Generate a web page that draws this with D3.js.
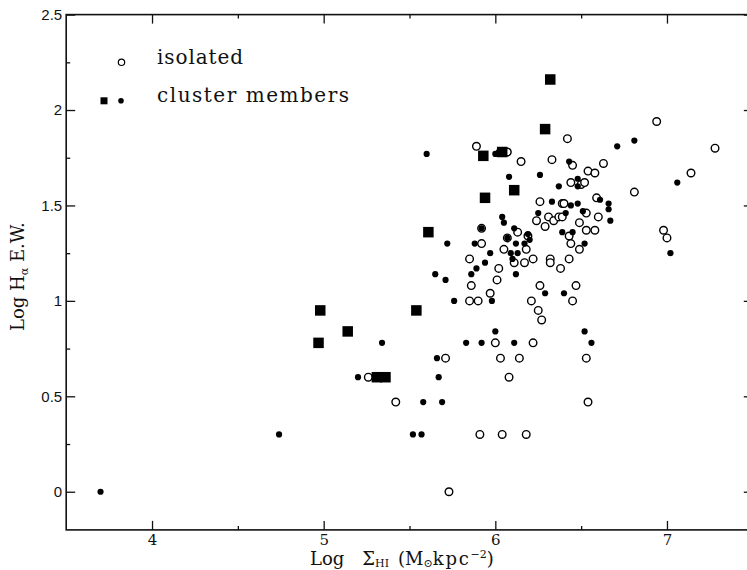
<!DOCTYPE html>
<html>
<head>
<meta charset="utf-8">
<script src="https://cdn.jsdelivr.net/npm/d3@7"></script>
<style>
  body { margin: 0; background: #fff; }
  svg { display: block; }
  .tick line { stroke: #111; stroke-width: 1.3; }
</style>
</head>
<body>
<svg id="chart" width="747" height="570"></svg>
<script>
// [log Sigma_HI, log H-alpha EW]
const isolated = [
  [5.73,0.00],[5.91,0.30],[6.04,0.30],[6.18,0.30],[5.26,0.60],[5.42,0.47],[5.71,0.70],
  [5.85,1.00],[5.90,1.00],[5.86,1.08],[5.85,1.22],[5.97,1.04],[6.00,0.78],[6.22,0.78],
  [6.03,0.70],[6.14,0.70],[6.53,0.70],[6.08,0.60],[6.54,0.47],[6.27,0.90],[6.25,0.95],
  [6.21,1.00],[6.26,1.08],[6.47,1.08],[6.45,1.00],[6.02,1.17],[6.01,1.11],[6.05,1.27],
  [6.18,1.27],[6.11,1.20],[6.17,1.20],[6.22,1.22],[6.32,1.22],[6.32,1.20],[6.43,1.22],
  [6.38,1.17],[5.92,1.38],[5.92,1.30],[6.07,1.33],[6.13,1.36],[6.19,1.34],[6.43,1.34],
  [6.44,1.30],[6.49,1.27],[6.98,1.37],[7.00,1.33],[6.24,1.42],[6.29,1.39],[6.49,1.41],
  [6.53,1.37],[6.58,1.37],[6.31,1.44],[6.34,1.42],[6.37,1.44],[6.39,1.44],[6.53,1.46],
  [6.60,1.44],[6.26,1.52],[6.39,1.51],[6.40,1.51],[6.59,1.54],[6.81,1.57],[6.44,1.62],
  [6.50,1.61],[6.52,1.62],[6.45,1.71],[6.54,1.68],[6.58,1.67],[6.63,1.72],[6.33,1.74],
  [6.15,1.73],[6.42,1.85],[6.94,1.94],[7.28,1.80],[7.14,1.67],[5.89,1.81],[6.07,1.78]
];

const clusterDots = [
  [3.70,0.00],[4.74,0.30],[5.52,0.30],[5.57,0.30],[5.20,0.60],[5.58,0.47],[5.69,0.47],
  [5.34,0.78],[5.83,0.78],[5.66,0.70],[5.67,0.60],[5.76,1.00],[5.65,1.14],[5.71,1.11],
  [5.86,1.14],[5.89,1.17],[6.00,0.84],[6.52,0.84],[5.92,0.78],[6.11,0.78],[6.56,0.78],
  [5.98,1.00],[6.29,1.04],[6.40,1.04],[6.12,1.14],[5.72,1.30],[5.88,1.30],[5.97,1.25],
  [5.94,1.20],[5.92,1.38],[6.11,1.38],[6.19,1.35],[6.20,1.32],[6.07,1.33],[6.12,1.30],
  [6.17,1.30],[6.09,1.25],[6.13,1.25],[6.10,1.22],[6.39,1.36],[6.45,1.36],[6.52,1.30],
  [6.04,1.44],[6.05,1.41],[6.25,1.46],[6.41,1.46],[6.51,1.47],[6.67,1.42],[6.33,1.52],
  [6.44,1.50],[6.48,1.51],[6.61,1.53],[6.66,1.51],[6.66,1.48],[6.37,1.60],[6.48,1.64],
  [6.48,1.60],[6.08,1.65],[6.26,1.66],[6.43,1.73],[6.71,1.81],[6.81,1.84],[7.06,1.62],
  [7.02,1.25],[6.00,1.77],[6.02,1.78],[5.60,1.77]
];

const clusterSquares = [
  [6.32,2.16],[6.29,1.90],[5.93,1.76],[6.04,1.78],[6.11,1.58],[5.94,1.54],[5.61,1.36],
  [4.98,0.95],[5.14,0.84],[4.97,0.78],[5.54,0.95],[5.31,0.60],[5.36,0.60]
];

const xMajor = [4, 5, 6, 7];
const xMinor = [4.5, 5.5, 6.5];
const yMajor = [0, 0.5, 1, 1.5, 2, 2.5];
const yMinor = [0.25, 0.75, 1.25, 1.75, 2.25];

const svg = d3.select("#chart");

const x = d3.scaleLinear().domain([3.5, 7.5]).range([66.2, 752.8]);
const y = d3.scaleLinear().domain([-0.2, 2.5]).range([529.9, 14.6]);

const serif = "'DejaVu Serif', 'Liberation Serif', serif";
const sans = "'Liberation Sans', Arial, sans-serif";

// frame
svg.append("rect")
  .attr("x", x(3.5)).attr("y", y(2.5))
  .attr("width", x(7.5) - x(3.5)).attr("height", y(-0.2) - y(2.5))
  .attr("fill", "none").attr("stroke", "#111").attr("stroke-width", 1.6);

function axis(gen, tx, ty) {
  const g = svg.append("g").attr("transform", `translate(${tx},${ty})`).call(gen);
  g.select(".domain").remove();
  return g;
}

// ticks point inward on all four sides
axis(d3.axisBottom(x).tickValues(xMajor).tickSize(-9).tickPadding(4).tickFormat(d => d), 0, y(-0.2))
  .selectAll("text").attr("font-family", serif).attr("font-size", 15).attr("fill", "#111");
axis(d3.axisBottom(x).tickValues(xMinor).tickSize(-4).tickFormat(""), 0, y(-0.2));
axis(d3.axisTop(x).tickValues(xMajor).tickSize(-9).tickFormat(""), 0, y(2.5));
axis(d3.axisTop(x).tickValues(xMinor).tickSize(-4).tickFormat(""), 0, y(2.5));

axis(d3.axisLeft(y).tickValues(yMajor).tickSize(-9).tickPadding(4).tickFormat(d => String(d)), x(3.5), 0)
  .selectAll("text").attr("font-family", sans).attr("font-size", 15).attr("fill", "#111");
axis(d3.axisLeft(y).tickValues(yMinor).tickSize(-4).tickFormat(""), x(3.5), 0);
axis(d3.axisRight(y).tickValues(yMajor).tickSize(-9).tickFormat(""), x(7.5), 0);
axis(d3.axisRight(y).tickValues(yMinor).tickSize(-4).tickFormat(""), x(7.5), 0);

// points
svg.append("g").selectAll("circle")
  .data(isolated).join("circle")
  .attr("cx", d => x(d[0])).attr("cy", d => y(d[1]))
  .attr("r", 3.8).attr("fill", "#fff").attr("stroke", "#000").attr("stroke-width", 1.4);

svg.append("g").selectAll("circle")
  .data(clusterDots).join("circle")
  .attr("cx", d => x(d[0])).attr("cy", d => y(d[1]))
  .attr("r", 3.1).attr("fill", "#000");

const sq = 10.5;
svg.append("g").selectAll("rect")
  .data(clusterSquares).join("rect")
  .attr("x", d => x(d[0]) - sq / 2).attr("y", d => y(d[1]) - sq / 2)
  .attr("width", sq).attr("height", sq).attr("fill", "#000");

// legend
const legend = svg.append("g");
legend.append("circle").attr("cx", 121.5).attr("cy", 62.3).attr("r", 3.2)
  .attr("fill", "#fff").attr("stroke", "#000").attr("stroke-width", 1.2);
legend.append("rect").attr("x", 100.5).attr("y", 97.3).attr("width", 7).attr("height", 7).attr("fill", "#000");
legend.append("circle").attr("cx", 121).attr("cy", 100.8).attr("r", 2.8).attr("fill", "#000");
legend.append("text").attr("x", 157).attr("y", 63.5)
  .attr("font-family", serif).attr("font-size", 20).attr("fill", "#111")
  .attr("textLength", 86).attr("lengthAdjust", "spacing").text("isolated");
legend.append("text").attr("x", 157).attr("y", 102)
  .attr("font-family", serif).attr("font-size", 20).attr("fill", "#111")
  .attr("textLength", 192).attr("lengthAdjust", "spacing").text("cluster members");

// axis titles
const xt = svg.append("text").attr("x", 310).attr("y", 565)
  .attr("font-family", serif).attr("font-size", 18).attr("fill", "#111");
xt.append("tspan").text("Log\u2003\u03A3");
xt.append("tspan").attr("font-size", 11).attr("dy", 2).text("HI");
xt.append("tspan").attr("dy", -2).text("\u2002(M");
xt.append("tspan").attr("font-size", 11).attr("dy", 2).text("\u2299");
xt.append("tspan").attr("dy", -2).attr("letter-spacing", 1.8).text("kpc");
xt.append("tspan").attr("font-size", 11).attr("dy", -7).text("\u22122");
xt.append("tspan").attr("dy", 7).text(")");

const yt = svg.append("text")
  .attr("transform", "translate(24,331) rotate(-90)")
  .attr("font-family", serif).attr("font-size", 18).attr("fill", "#111");
yt.append("tspan").text("Log H");
yt.append("tspan").attr("font-size", 11).attr("dy", 4).text("\u03B1");
yt.append("tspan").attr("dy", -4).text(" E.W.");
</script>
</body>
</html>
